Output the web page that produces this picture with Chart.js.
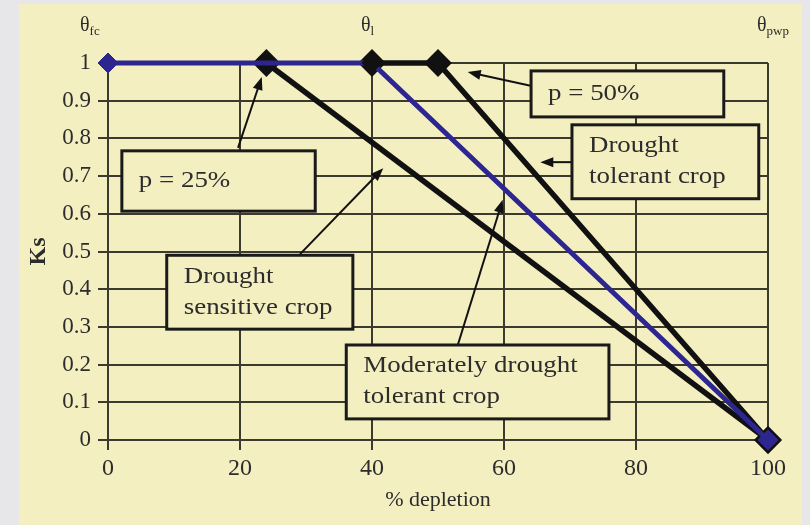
<!DOCTYPE html>
<html>
<head>
<meta charset="utf-8">
<script src="https://cdn.jsdelivr.net/npm/chart.js@4.4.1/dist/chart.umd.min.js"></script>
<style>
    html, body { margin: 0; padding: 0; background: #e7e7ea; }
    #frame { position: absolute; left: 19px; top: 4px; width: 783px; height: 521px; background: #f4efc1; }
    #wrap { position: absolute; left: 0; top: 0; width: 810px; height: 525px; }
</style>
</head>
<body>
<div id="frame"></div>
<div id="wrap"><canvas id="ksChart" width="810" height="525"></canvas></div>
<script>
// values
var moderateX = [0, 40, 100];
var moderateKs = [1, 1, 0];
var sensitiveX = [24, 100];
var sensitiveKs = [1, 0];
var tolerantX = [40, 50, 100];
var tolerantKs = [1, 1, 0];

var xTicks = [0, 20, 40, 60, 80, 100];
var yTicks = [0, 0.1, 0.2, 0.3, 0.4, 0.5, 0.6, 0.7, 0.8, 0.9, 1];
var yTickLabels = ['0', '0.1', '0.2', '0.3', '0.4', '0.5', '0.6', '0.7', '0.8', '0.9', '1'];

var thetaMarks = [0, 40, 100];
var thetaSubs = ['fc', 'l', 'pwp'];

var BLUE = '#2d2690';
var INK = '#111111';
var GRID = '#3c3a2e';
var TEXT = '#2c2c2c';
var SERIF = '"Liberation Serif", "DejaVu Serif", serif';

function points(xs, ys) {
    return xs.map(function(x, i) { return { x: x, y: ys[i] }; });
}

// callout boxes, positioned in data units
var notes = [
    { text: ['p = 25%'], box: [2.1, 0.767, 31.4, 0.607], arrow: [19.7, 0.775, 23.3, 0.963] },
    { text: ['p = 50%'], box: [64.1, 0.979, 93.3, 0.857], arrow: [64.2, 0.939, 54.5, 0.976] },
    { text: ['Drought', 'tolerant crop'], box: [70.3, 0.836, 98.6, 0.640], arrow: [70.3, 0.737, 65.5, 0.737] },
    { text: ['Drought', 'sensitive crop'], box: [8.9, 0.490, 37.1, 0.294], arrow: [29.1, 0.493, 41.7, 0.721] },
    { text: ['Moderately drought', 'tolerant crop'], box: [36.1, 0.252, 75.9, 0.056], arrow: [53.0, 0.252, 59.8, 0.637] }
];

var calloutPlugin = {
    id: 'callouts',
    afterDraw: function(chart) {
        var ctx = chart.ctx;
        var xs = chart.scales.x, ys = chart.scales.y;
        ctx.save();

        notes.forEach(function(n) {
            // arrow
            var x1 = xs.getPixelForValue(n.arrow[0]), y1 = ys.getPixelForValue(n.arrow[1]);
            var x2 = xs.getPixelForValue(n.arrow[2]), y2 = ys.getPixelForValue(n.arrow[3]);
            var a = Math.atan2(y2 - y1, x2 - x1);
            ctx.strokeStyle = INK;
            ctx.fillStyle = INK;
            ctx.lineWidth = 2;
            ctx.beginPath();
            ctx.moveTo(x1, y1);
            ctx.lineTo(x2 - Math.cos(a) * 8, y2 - Math.sin(a) * 8);
            ctx.stroke();
            ctx.beginPath();
            ctx.moveTo(x2, y2);
            ctx.lineTo(x2 - Math.cos(a) * 13 + Math.sin(a) * 5, y2 - Math.sin(a) * 13 - Math.cos(a) * 5);
            ctx.lineTo(x2 - Math.cos(a) * 13 - Math.sin(a) * 5, y2 - Math.sin(a) * 13 + Math.cos(a) * 5);
            ctx.closePath();
            ctx.fill();

            // box
            var l = xs.getPixelForValue(n.box[0]), t = ys.getPixelForValue(n.box[1]);
            var r = xs.getPixelForValue(n.box[2]), b = ys.getPixelForValue(n.box[3]);
            ctx.fillStyle = '#f4efc1';
            ctx.fillRect(l, t, r - l, b - t);
            ctx.lineWidth = 3;
            ctx.strokeStyle = '#1a1a1a';
            ctx.strokeRect(l, t, r - l, b - t);

            // text
            ctx.fillStyle = TEXT;
            ctx.font = '23px ' + SERIF;
            ctx.textBaseline = 'middle';
            ctx.textAlign = 'left';
            var mid = (t + b) / 2;
            var gap = 31;
            var start = mid - gap * (n.text.length - 1) / 2;
            n.text.forEach(function(line, i) {
                ctx.save();
                ctx.translate(l + 17, start + gap * i);
                ctx.scale(1.17, 1);
                ctx.fillText(line, 0, 0);
                ctx.restore();
            });
        });

        // theta labels above the plot
        var offsets = [-28, -11, -11];
        thetaMarks.forEach(function(v, i) {
            var px = xs.getPixelForValue(v) + offsets[i];
            ctx.fillStyle = TEXT;
            ctx.textAlign = 'left';
            ctx.textBaseline = 'alphabetic';
            ctx.font = '20px ' + SERIF;
            ctx.fillText('\u03b8', px, 31);
            var w = ctx.measureText('\u03b8').width;
            ctx.font = '13px ' + SERIF;
            ctx.fillText(thetaSubs[i], px + w, 35);
        });
        ctx.restore();
    }
};

var ksChartConfig = {
    type: 'line',
    data: {
        datasets: [{
            label: 'Moderately drought tolerant crop',
            data: points(moderateX, moderateKs),
            borderColor: BLUE,
            borderWidth: 5,
            pointStyle: 'rectRot',
            pointRadius: 10,
            pointBackgroundColor: [BLUE, INK, BLUE],
            pointBorderColor: [BLUE, INK, BLUE],
            pointBorderWidth: 1,
            clip: false
        }, {
            label: 'Drought sensitive crop',
            data: points(sensitiveX, sensitiveKs),
            borderColor: INK,
            borderWidth: 5.5,
            pointStyle: 'rectRot',
            pointRadius: 10,
            pointBackgroundColor: INK,
            pointBorderColor: INK,
            clip: false
        }, {
            label: 'Drought tolerant crop',
            data: points(tolerantX, tolerantKs),
            borderColor: INK,
            borderWidth: 5.5,
            pointStyle: 'rectRot',
            pointRadius: 10,
            pointBackgroundColor: INK,
            pointBorderColor: INK,
            clip: false
        }]
    },
    options: {
        responsive: false,
        animation: false,
        layout: {
            padding: { left: 0, top: 63, right: 42, bottom: 0 }
        },
        plugins: {
            legend: { display: false },
            tooltip: { enabled: false }
        },
        scales: {
            x: {
                type: 'linear',
                min: 0,
                max: 100,
                afterBuildTicks: function(scale) {
                    scale.ticks = xTicks.map(function(v) { return { value: v }; });
                },
                afterFit: function(scale) { scale.height = 85; },
                grid: { color: GRID, lineWidth: 2, tickLength: 10 },
                border: { color: GRID, width: 2 },
                ticks: {
                    color: TEXT,
                    font: { family: SERIF, size: 24 },
                    padding: 4,
                    maxRotation: 0
                },
                title: {
                    display: true,
                    text: '% depletion',
                    color: TEXT,
                    font: { family: SERIF, size: 22 },
                    padding: { top: 0, bottom: 12 }
                }
            },
            y: {
                min: 0,
                max: 1,
                afterBuildTicks: function(scale) {
                    scale.ticks = yTicks.map(function(v) { return { value: v }; });
                },
                afterFit: function(scale) { scale.width = 108; },
                grid: { color: GRID, lineWidth: 2, tickLength: 10 },
                border: { color: GRID, width: 2 },
                ticks: {
                    color: TEXT,
                    font: { family: SERIF, size: 23 },
                    padding: 7,
                    callback: function(v) {
                        var i = yTicks.indexOf(Math.round(v * 10) / 10);
                        return i >= 0 ? yTickLabels[i] : '';
                    }
                },
                title: {
                    display: true,
                    text: 'Ks',
                    color: TEXT,
                    font: { family: SERIF, size: 24, weight: 'bold' },
                    padding: { top: 24, bottom: 0 }
                }
            }
        }
    },
    plugins: [calloutPlugin]
};

window.onload = function() {
    var ctx = document.getElementById('ksChart').getContext('2d');
    window.ksChart = new Chart(ctx, ksChartConfig);
};
</script>
</body>
</html>
